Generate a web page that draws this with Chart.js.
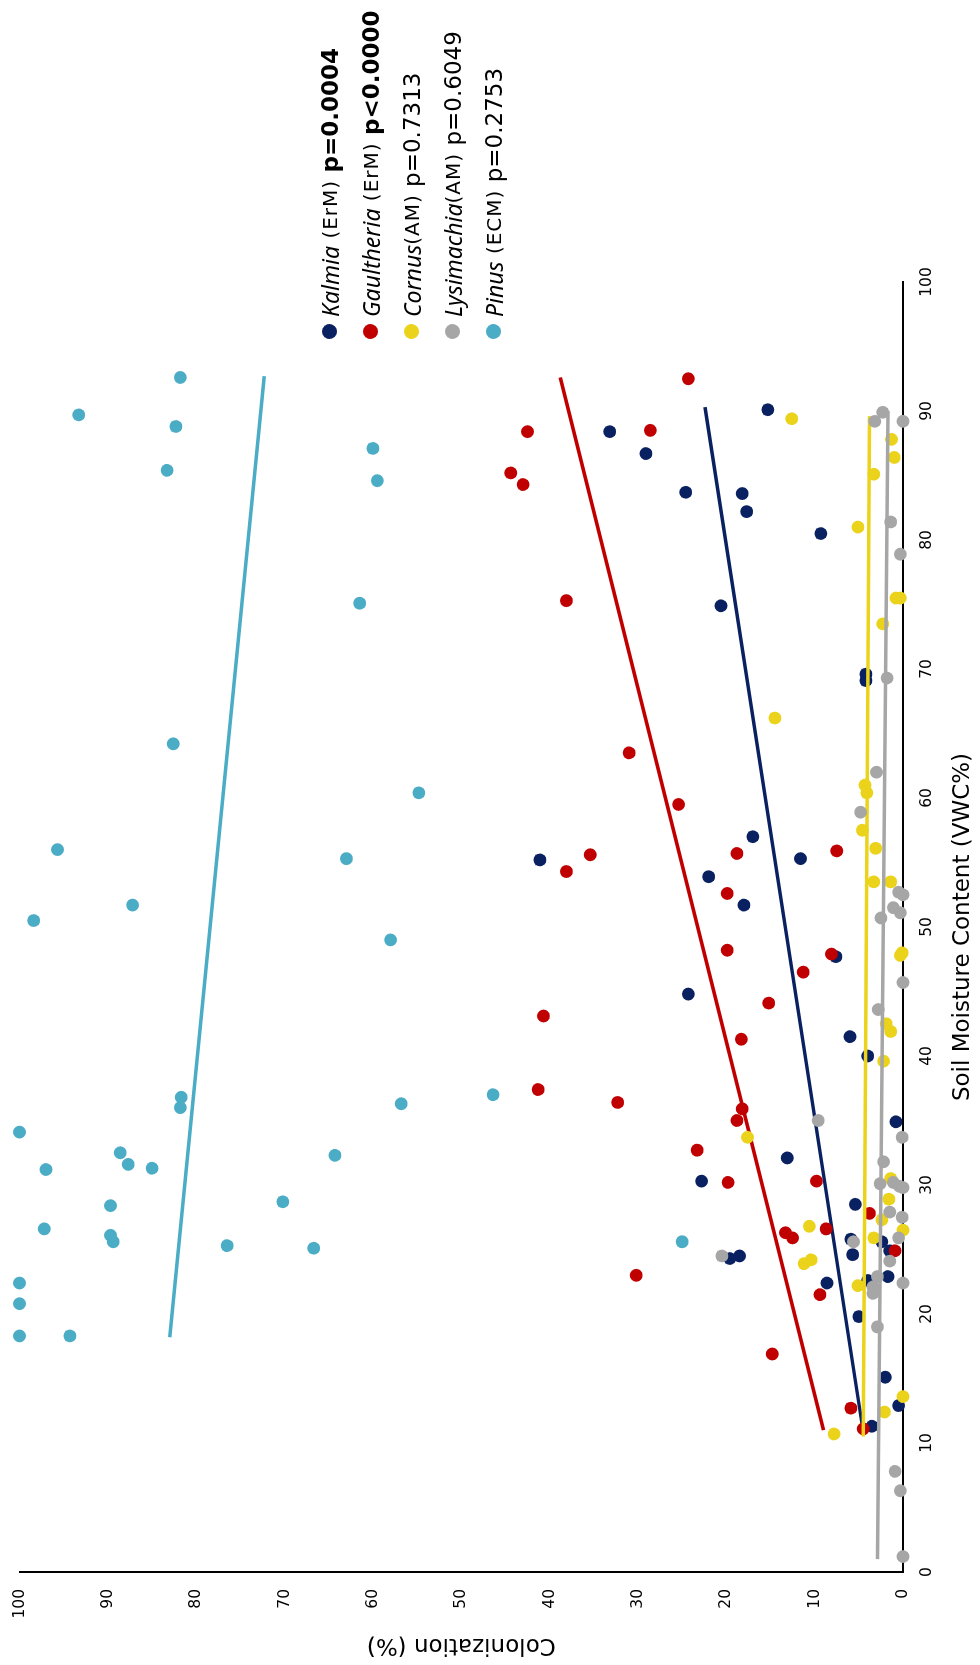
<!DOCTYPE html>
<html>
<head>
<meta charset="utf-8">
<script src="https://cdn.jsdelivr.net/npm/chart.js@4.4.1/dist/chart.umd.min.js"></script>
<style>
  html, body { margin: 0; padding: 0; width: 980px; height: 1665px; overflow: hidden; background: #fff; }
  /* the chart is laid out landscape, then turned a quarter turn counter-clockwise */
  #stage { position: absolute; left: 0; top: 0; width: 1665px; height: 980px;
           transform-origin: 0 0; transform: translateY(1665px) rotate(-90deg); }
  #chart { position: absolute; left: 0; top: 0; }
  #legend { position: absolute; left: 1326px; top: 309px; font-family: "DejaVu Sans", sans-serif;
            font-size: 23px; color: #000; }
  .row { display: flex; align-items: center; height: 41px; white-space: nowrap; }
  .dot { width: 15px; height: 15px; border-radius: 50%; margin-right: 7px; flex: none; }
  .row i { font-family: "Noto Sans", sans-serif; font-size: 23px; }
  .grp { font-size: 20px; letter-spacing: 1px; }
</style>
</head>
<body>
<div id="stage">
  <canvas id="chart" width="1665" height="980"></canvas>
  <div id="legend"></div>
</div>
<script>
// Soil moisture (x) and colonization (y) per genus
const kalmiaX = [88.4, 86.7, 90.1, 83.7, 83.6, 82.2, 80.5, 74.9, 69.6, 69.1, 57.0, 55.2, 55.3, 53.9, 51.7, 47.7, 44.8, 41.5,
                 40.0, 34.9, 32.1, 30.3, 28.5, 25.8, 25.6, 24.9, 24.6, 24.3, 24.5, 22.4, 22.9, 22.6, 19.8, 15.1, 12.9, 11.3];
const kalmiaY = [33.2, 29.1, 15.3, 24.6, 18.2, 17.7, 9.3, 20.6, 4.2, 4.2, 17.0, 41.1, 11.6, 22.0, 18.0, 7.6, 24.3, 6.0,
                 4.0, 0.8, 13.1, 22.8, 5.4, 5.9, 2.4, 1.5, 5.7, 19.6, 18.5, 8.6, 1.7, 4.0, 5.0, 2.0, 0.5, 3.5];

const gaultheriaX = [92.5, 88.4, 88.5, 85.2, 84.3, 75.3, 63.5, 59.5, 55.6, 54.3, 55.7, 55.9, 52.6, 48.2, 47.9, 46.5, 44.1, 43.1,
                     41.3, 37.4, 36.4, 35.9, 35.0, 32.7, 30.2, 30.3, 27.8, 26.6, 26.3, 25.9, 24.9, 23.0, 21.5, 16.9, 12.7, 11.1];
const gaultheriaY = [24.3, 42.5, 28.6, 44.4, 43.0, 38.1, 31.0, 25.4, 35.4, 38.1, 18.8, 7.5, 19.9, 19.9, 8.1, 11.3, 15.2, 40.7,
                     18.3, 41.3, 32.3, 18.2, 18.8, 23.3, 19.8, 9.8, 3.8, 8.7, 13.3, 12.5, 0.9, 30.2, 9.4, 14.8, 5.9, 4.5];

const cornusX = [89.4, 87.8, 86.4, 85.1, 81.0, 75.5, 75.5, 73.5, 66.2, 61.0, 60.4, 57.5, 56.1, 53.5, 53.5, 48.0, 47.8,
                 42.5, 41.9, 39.6, 33.7, 30.5, 28.9, 27.3, 26.8, 26.5, 25.9, 23.9, 24.2, 22.2, 13.6, 12.4, 10.7];
const cornusY = [12.6, 1.3, 1.0, 3.3, 5.1, 0.3, 0.8, 2.3, 14.5, 4.3, 4.1, 4.6, 3.1, 3.3, 1.4, 0.1, 0.3,
                 1.9, 1.4, 2.2, 17.6, 1.4, 1.6, 2.4, 10.6, 0.0, 3.3, 11.2, 10.4, 5.1, 0.0, 2.1, 7.8];

const lysimachiaX = [89.2, 89.9, 89.2, 81.4, 78.9, 69.3, 62.0, 58.9, 52.7, 52.5, 51.5, 51.1, 50.7, 45.7, 43.6, 35.0, 33.7, 31.8,
                     30.1, 30.2, 29.9, 29.8, 27.9, 27.5, 25.6, 25.9, 24.1, 24.5, 22.9, 22.4, 22.1, 21.6, 19.0, 7.8, 6.3, 1.2];
const lysimachiaY = [3.2, 2.3, 0.0, 1.4, 0.3, 1.8, 3.0, 4.8, 0.5, 0.0, 1.1, 0.3, 2.5, 0.0, 2.8, 9.6, 0.1, 2.2,
                     2.6, 1.1, 0.4, 0.0, 1.5, 0.1, 5.6, 0.5, 1.5, 20.5, 2.9, 0.0, 3.4, 3.4, 2.9, 0.9, 0.3, 0.0];

const pinusX = [92.6, 89.7, 88.8, 85.4, 87.1, 84.6, 75.1, 64.2, 60.4, 56.0, 51.7, 50.5, 55.3, 49.0, 36.8, 36.0, 34.1, 32.5,
                31.2, 31.6, 31.3, 28.4, 26.6, 26.1, 25.6, 22.4, 20.8, 36.3, 32.3, 28.7, 25.3, 25.1, 18.3, 18.3, 37.0, 25.6];
const pinusY = [81.8, 93.3, 82.3, 83.3, 60.0, 59.5, 61.5, 82.6, 54.8, 95.7, 87.2, 98.4, 63.0, 58.0, 81.7, 81.8, 100, 88.6,
                97.0, 87.7, 85.0, 89.7, 97.2, 89.7, 89.4, 100, 100, 56.8, 64.3, 70.2, 76.5, 66.7, 100, 94.3, 46.4, 25.0];

// Fitted line end points
const kalmiaFitX = [11.3, 90.3],     kalmiaFitY = [4.6, 22.4];
const gaultheriaFitX = [11.0, 92.6], gaultheriaFitY = [9.0, 38.8];
const cornusFitX = [10.5, 89.6],     cornusFitY = [4.5, 3.8];
const lysimachiaFitX = [1.0, 90.0],  lysimachiaFitY = [2.9, 1.7];
const pinusFitX = [18.2, 92.7],      pinusFitY = [83.0, 72.3];

// Legend text
const genusNames = ['Kalmia', 'Gaultheria', 'Cornus', 'Lysimachia', 'Pinus'];
const genusGroups = [' (ErM) ', ' (ErM) ', '(AM) ', '(AM) ', ' (ECM) '];
const genusP = ['p=0.0004', 'p<0.0000', 'p=0.7313', 'p=0.6049', 'p=0.2753'];
const genusBold = [true, true, false, false, false];
const genusColors = ['#0a2161', '#c00000', '#ebd31b', '#a6a6a6', '#4bacc6'];

function toPoints(xs, ys) {
    return xs.map((x, i) => ({ x: x, y: ys[i] }));
}

const seriesX = [kalmiaX, gaultheriaX, cornusX, lysimachiaX, pinusX];
const seriesY = [kalmiaY, gaultheriaY, cornusY, lysimachiaY, pinusY];
const fitX = [kalmiaFitX, gaultheriaFitX, cornusFitX, lysimachiaFitX, pinusFitX];
const fitY = [kalmiaFitY, gaultheriaFitY, cornusFitY, lysimachiaFitY, pinusFitY];

// scatter then its fit line, later genera drawn on top
const datasets = [];
genusNames.forEach((name, i) => {
    datasets.push({
        type: 'scatter',
        label: name,
        data: toPoints(seriesX[i], seriesY[i]),
        backgroundColor: genusColors[i],
        borderWidth: 0,
        pointRadius: 6.4,
        pointHoverRadius: 6.4,
        clip: false,
        order: 10 - i * 2,
    });
    datasets.push({
        type: 'line',
        label: name + ' fit',
        data: toPoints(fitX[i], fitY[i]),
        borderColor: genusColors[i],
        borderWidth: 3.5,
        pointRadius: 0,
        fill: false,
        clip: false,
        order: 9 - i * 2,
    });
});

Chart.defaults.font.family = "'DejaVu Sans', sans-serif";
Chart.defaults.color = '#000';

new Chart(document.getElementById('chart'), {
    type: 'scatter',
    data: { datasets: datasets },
    options: {
        responsive: false,
        animation: false,
        devicePixelRatio: 1,
        layout: { autoPadding: false, padding: { left: 0, right: 282, top: 19.5, bottom: 0 } },
        plugins: { legend: { display: false }, tooltip: { enabled: false } },
        scales: {
            x: {
                type: 'linear', min: 0, max: 100,
                grid: { display: false, drawTicks: false },
                border: { display: true, color: '#000', width: 2 },
                ticks: { stepSize: 10, font: { size: 15.5 }, padding: 15, color: '#000' },
                title: { display: true, text: 'Soil Moisture Content (VWC%)', font: { size: 23 }, padding: { top: 0, bottom: 3 } },
                afterFit: s => { s.height = 77; },
            },
            y: {
                type: 'linear', min: 0, max: 100,
                grid: { display: false, drawTicks: false },
                border: { display: true, color: '#000', width: 2 },
                ticks: { stepSize: 10, font: { size: 15.5 }, padding: 17, color: '#000' },
                title: { display: true, text: 'Colonization (%)', font: { size: 23 }, padding: { top: 6, bottom: 0 } },
                afterFit: s => { s.width = 93; s.paddingTop = 0; s.paddingBottom = 0; },
            },
        },
    },
});

// HTML legend (mixed italic / bold text)
const legend = document.getElementById('legend');
genusNames.forEach((name, i) => {
    const row = document.createElement('div');
    row.className = 'row';
    const dot = document.createElement('span');
    dot.className = 'dot';
    dot.style.background = genusColors[i];
    row.appendChild(dot);
    const it = document.createElement('i');
    it.textContent = name;
    row.appendChild(it);
    const grp = document.createElement('span');
    grp.className = 'grp';
    grp.innerHTML = genusGroups[i].replace(/ /g, '&nbsp;');
    row.appendChild(grp);
    const p = document.createElement(genusBold[i] ? 'b' : 'span');
    p.textContent = genusP[i];
    row.appendChild(p);
    legend.appendChild(row);
});
</script>
</body>
</html>
